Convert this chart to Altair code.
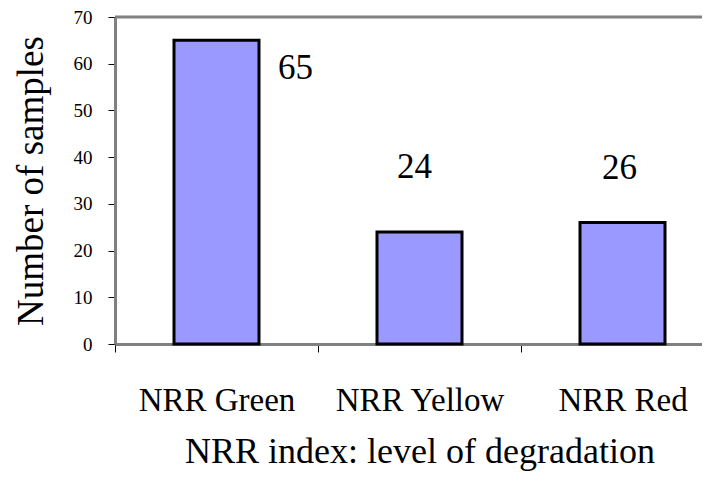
import altair as alt
import pandas as pd

categories = ["NRR Green", "NRR Yellow", "NRR Red"]
samples = [65, 24, 26]
y_ticks = [0, 10, 20, 30, 40, 50, 60, 70]
label_dx = [79, -5, -3]
label_dy = [39, -54, -44]

df = pd.DataFrame({"category": categories, "samples": samples})

FONT = "'Liberation Serif', 'Times New Roman', Times, serif"
W, H = 587, 327
STEP = 203
GRAY = "#808080"

x_enc = alt.X(
    "category:N",
    sort=categories,
    scale=alt.Scale(range=[0, STEP * 3], paddingInner=0, paddingOuter=0),
    axis=alt.Axis(
        title="NRR index: level of degradation",
        labelAngle=0,
        tickBand="extent",
        tickSize=8,
        tickColor="black",
        tickWidth=1,
        domainColor=GRAY,
        domainWidth=3,
        labelFont=FONT,
        labelFontSize=33,
        labelColor="black",
        labelBaseline="alphabetic",
        labelPadding=58,
        titleFont=FONT,
        titleFontSize=36,
        titleFontWeight="normal",
        titleColor="black",
        titleX=STEP * 1.5,
        titleY=118,
        titleBaseline="alphabetic",
        titleAlign="center",
    ),
)

y_enc = alt.Y(
    "samples:Q",
    scale=alt.Scale(domain=[0, 70], nice=False),
    axis=alt.Axis(
        title="Number of samples",
        values=y_ticks,
        grid=False,
        tickSize=7,
        tickColor="black",
        tickWidth=1,
        domainColor=GRAY,
        domainWidth=3,
        labelFont=FONT,
        labelFontSize=19,
        labelColor="black",
        labelPadding=16,
        titleFont=FONT,
        titleFontSize=37,
        titleFontWeight="normal",
        titleColor="black",
        titleX=-73,
        titleY=H / 2,
        titleAngle=-90,
        titleBaseline="alphabetic",
        titleAlign="center",
    ),
)

base = alt.Chart(df)

bars = base.mark_bar(size=85, color="#9999ff", stroke="black", strokeWidth=3).encode(
    x=x_enc, y=y_enc
)

top_rule = alt.Chart(pd.DataFrame({"v": [70]})).mark_rule(
    color=GRAY, strokeWidth=3
).encode(y=alt.Y("v:Q", scale=alt.Scale(domain=[0, 70], nice=False)))

texts = []
for c, dx, dy in zip(categories, label_dx, label_dy):
    texts.append(
        base.transform_filter(alt.datum.category == c)
        .mark_text(dx=dx, dy=dy, baseline="alphabetic", align="center",
                   font=FONT, fontSize=35, color="black")
        .encode(
            x=alt.X("category:N", sort=categories),
            y=alt.Y("samples:Q"),
            text=alt.Text("samples:Q"),
        )
    )

chart = alt.layer(bars, top_rule, *texts).properties(
    width=W,
    height=H,
    padding={"left": 107, "top": 9, "right": 0, "bottom": 130},
    autosize=alt.AutoSizeParams(type="none"),
).configure_view(stroke=None).configure(background="white", font=FONT)

chart.save("out.html", embed_options={"renderer": "svg", "actions": False})
